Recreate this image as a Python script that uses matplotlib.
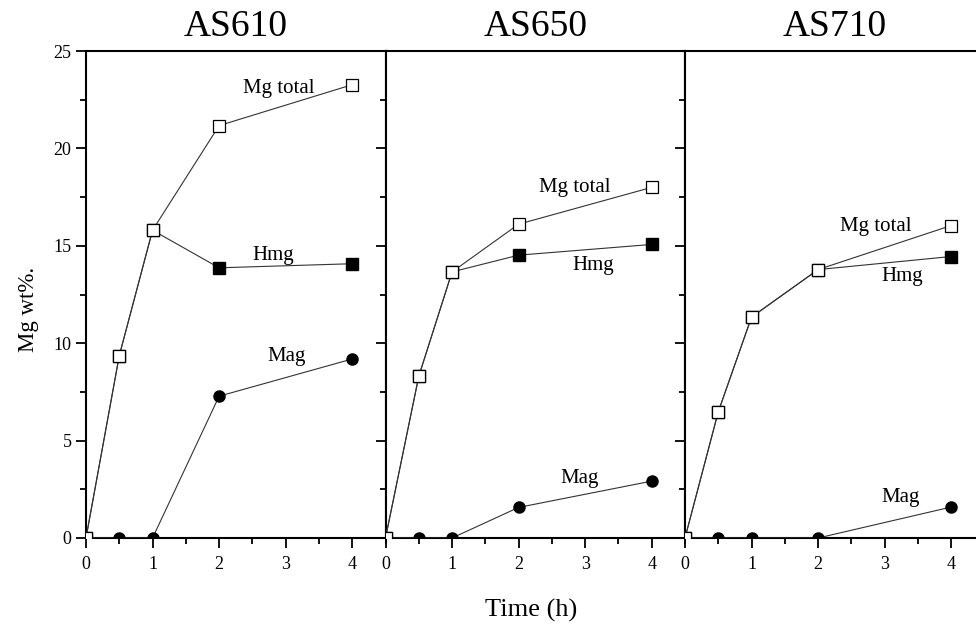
import matplotlib.pyplot as plt
from matplotlib.ticker import MultipleLocator

plt.rcParams['font.family'] = ['Liberation Serif', 'DejaVu Serif']

time_h = [0, 0.5, 1, 2, 4]
samples = ['AS610', 'AS650', 'AS710']

# Mg total (open squares), Hmg (filled squares), Mag (filled circles)
mg_total = [
    [0, 9.36, 15.8, 21.17, 23.27],
    [0, 8.30, 13.66, 16.11, 18.0],
    [0, 6.48, 11.34, 13.78, 16.04],
]
hmg = [
    [0, 9.36, 15.8, 13.87, 14.08],
    [0, 8.30, 13.66, 14.52, 15.07],
    [0, 6.48, 11.34, 13.78, 14.45],
]
mag = [
    [0, 0, 0, 7.28, 9.19],
    [0, 0, 0, 1.57, 2.92],
    [0, 0, 0, 0, 1.59],
]

# label positions (x, y) per panel
lbl_total = [(2.9, 23.1), (2.84, 18.0), (2.86, 16.0)]
lbl_hmg = [(2.82, 14.5), (3.12, 14.0), (3.27, 13.4)]
lbl_mag = [(3.01, 9.3), (2.92, 3.05), (3.24, 2.1)]

fig = plt.figure(figsize=(9.76, 6.28), dpi=100)

left0 = 86 / 976
width = 299.5 / 976
bottom = 1 - 538 / 628
height = 487 / 628

for i in range(3):
    ax = fig.add_axes([left0 + i * width, bottom, width, height])
    ax.plot(time_h, hmg[i], '-', color='#333333', lw=0.8, marker='s',
            ms=8, mfc='black', mec='black', zorder=3)
    ax.plot(time_h, mg_total[i], '-', color='#333333', lw=0.8, marker='s',
            ms=8, mfc='white', mec='black', mew=0.9, zorder=4)
    ax.plot(time_h, mag[i], '-', color='#333333', lw=0.8, marker='o',
            ms=8, mfc='black', mec='black', zorder=3)

    ax.text(*lbl_total[i], 'Mg total', fontsize=15, ha='center', va='center')
    ax.text(*lbl_hmg[i], 'Hmg', fontsize=15, ha='center', va='center')
    ax.text(*lbl_mag[i], 'Mag', fontsize=15, ha='center', va='center')

    ax.set_xlim(0, 4.5)
    ax.set_ylim(0, 25)
    ax.set_title(samples[i], fontsize=27, pad=11)

    ax.xaxis.set_major_locator(MultipleLocator(1))
    ax.xaxis.set_minor_locator(MultipleLocator(0.5))
    ax.yaxis.set_major_locator(MultipleLocator(5))
    ax.yaxis.set_minor_locator(MultipleLocator(2.5))
    ax.tick_params(axis='x', which='both', direction='out', top=False,
                   labelsize=13, width=1.3, pad=6)
    ax.tick_params(axis='x', which='major', length=7)
    ax.tick_params(axis='x', which='minor', length=4)
    # left ticks point outward; on panels 2 and 3 they read as the
    # inward right ticks of the panel before
    ax.tick_params(axis='y', which='both', left=True, right=False,
                   direction='out', width=1.3, labelsize=13,
                   labelleft=(i == 0))
    ax.tick_params(axis='y', which='major', length=7)
    ax.tick_params(axis='y', which='minor', length=4)
    if i == 0:
        ax.set_ylabel('Mg wt%.', fontsize=16.5, labelpad=10, y=0.47)
    for sp in ax.spines.values():
        sp.set_linewidth(1.5)

fig.text((86 + 976) / 2 / 976, 1 - 610 / 628, 'Time (h)', fontsize=19,
         ha='center', va='center')

fig.savefig('out.png', dpi=100)
